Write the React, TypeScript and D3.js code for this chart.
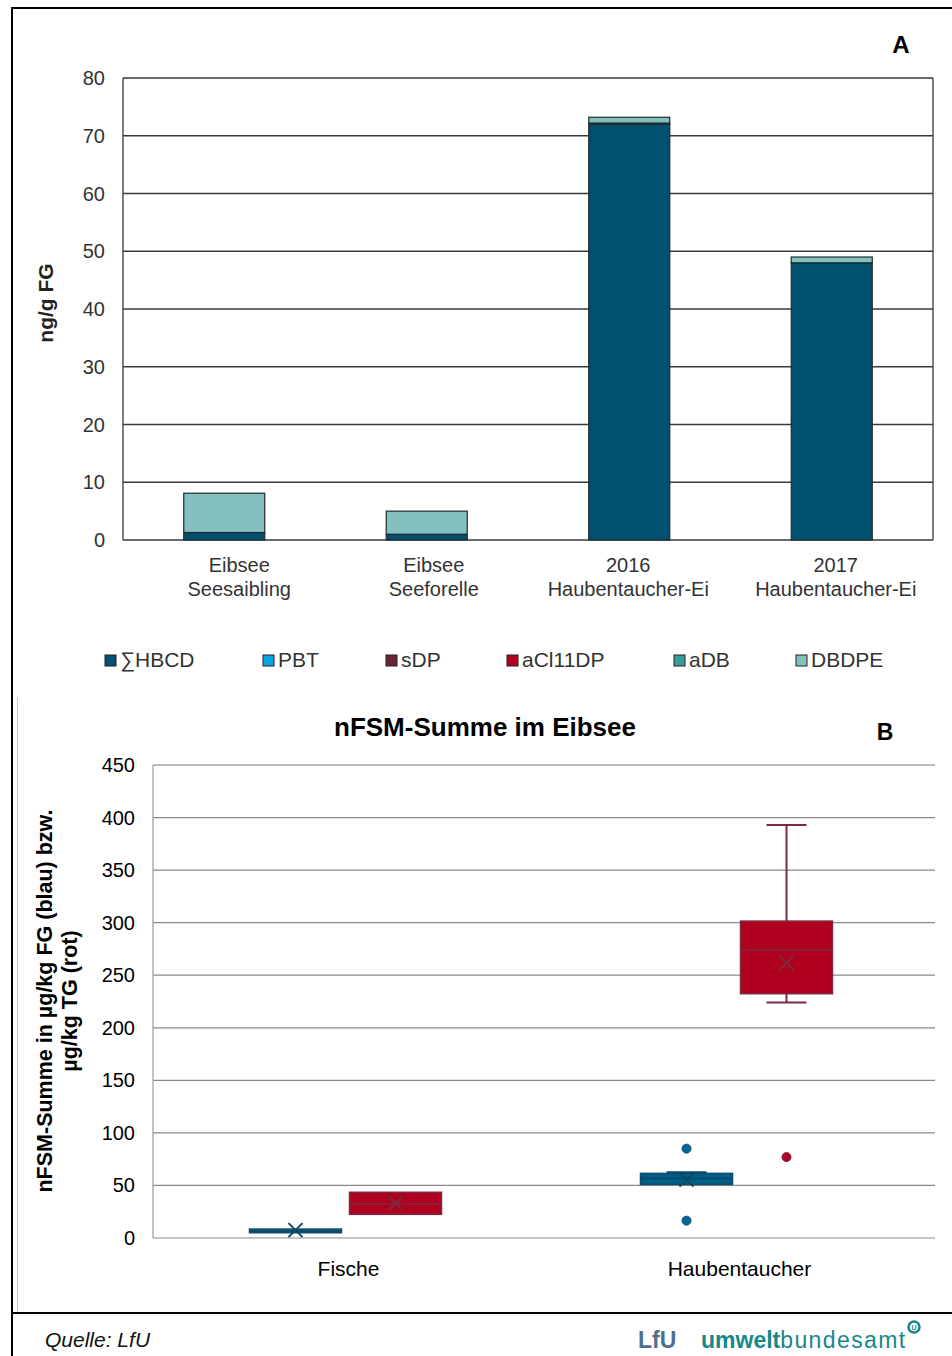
import React from "react";
import * as d3 from "d3";

// ---------- Panel A data ----------
const catA = ["Eibsee|Seesaibling", "Eibsee|Seeforelle", "2016|Haubentaucher-Ei", "2017|Haubentaucher-Ei"];
const seriesNames = ["∑HBCD", "PBT", "sDP", "aCl11DP", "aDB", "DBDPE"];
const seriesColors = ["#02506f", "#0aa1dd", "#6b2333", "#b4001e", "#3b9b98", "#83c0be"];
const hbcd = [1.3, 1.0, 72.0, 48.0];
const pbt = [0, 0, 0, 0];
const sdp = [0, 0, 0.2, 0];
const acl11dp = [0, 0, 0, 0];
const adb = [0, 0, 0, 0];
const dbdpe = [6.8, 4.0, 1.0, 1.0];
const ticksA = [0, 10, 20, 30, 40, 50, 60, 70, 80];

// ---------- Panel B data ----------
const groupsB = ["Fische", "Haubentaucher"];
// [min, q1, median, q3, max, mean]
const blueFische = [5, 5, 6.5, 8.5, 8.5, 7.5];
const blueHauben = [51, 51, 56.5, 61.5, 62.5, 55.5];
const redFische = [22.5, 22.5, 32.6, 43.5, 43.5, 33];
const redHauben = [224, 232.4, 274, 301.5, 393, 261.6];
const blueOutliers = [[], [85, 16.5]];
const redOutliers = [[], [77]];
const ticksB = [0, 50, 100, 150, 200, 250, 300, 350, 400, 450];

const FONT = "'Liberation Sans', Arial, sans-serif";

export default function App() {
  // Panel A scales
  const xA = d3.scaleBand<string>().domain(catA).range([123, 933]).paddingInner(0.6).paddingOuter(0.3);
  const yA = d3.scaleLinear().domain([0, 80]).range([540, 78]);
  const rows = catA.map((c, i) => {
    const r: any = { cat: c };
    const vals = [hbcd, pbt, sdp, acl11dp, adb, dbdpe];
    seriesNames.forEach((s, j) => (r[s] = vals[j][i]));
    return r;
  });
  const stacked = d3.stack<any>().keys(seriesNames)(rows);
  const legendX = [105, 263, 386, 507, 674, 796];
  const labelDx = [15, 7, -1, 4];

  // Panel B scales
  const xB = d3.scaleBand<string>().domain(groupsB).range([153, 935]);
  const xB1 = d3.scaleBand<string>().domain(["blue", "red"]).range([-107, 101]).paddingInner(0.08).paddingOuter(0.08);
  const yB = d3.scaleLinear().domain([0, 450]).range([1238, 765]);

  const boxes = [
    { g: "Fische", s: "blue", st: blueFische, out: blueOutliers[0] },
    { g: "Haubentaucher", s: "blue", st: blueHauben, out: blueOutliers[1] },
    { g: "Fische", s: "red", st: redFische, out: redOutliers[0] },
    { g: "Haubentaucher", s: "red", st: redHauben, out: redOutliers[1] },
  ];
  const boxStyle: any = {
    blue: { fill: "#005d86", stroke: "#0d4e6d", line: "#0b4866" },
    red: { fill: "#b0001f", stroke: "#7b2a40", line: "#7b2a40" },
  };

  return (
    <svg width={952} height={1356} style={{ position: "absolute", left: 0, top: 0, background: "#fff" }} fontFamily={FONT}>
      {/* outer frame */}
      <line x1={12} x2={952} y1={8} y2={8} stroke="#000" strokeWidth={2} />
      <line x1={12} x2={12} y1={7} y2={1356} stroke="#000" strokeWidth={2} />
      <line x1={17.5} x2={17.5} y1={697} y2={1313} stroke="#c8c8c8" strokeWidth={1} />
      <line x1={12} x2={952} y1={1313} y2={1313} stroke="#000" strokeWidth={2} />

      {/* ===== Panel A ===== */}
      <text x={901} y={53} fontSize={24} fontWeight="bold" textAnchor="middle">A</text>
      {ticksA.map((t) => (
        <g key={t}>
          <line x1={123} x2={933} y1={yA(t)} y2={yA(t)} stroke="#3a3a3a" strokeWidth={1.3} />
          <text x={105} y={yA(t) + 7} fontSize={20} textAnchor="end" fill="#333">{t}</text>
        </g>
      ))}
      <line x1={123} x2={123} y1={78} y2={540} stroke="#3a3a3a" strokeWidth={1.3} />
      <line x1={933} x2={933} y1={78} y2={540} stroke="#3a3a3a" strokeWidth={1.3} />
      <text transform="translate(53,303) rotate(-90)" fontSize={21} fontWeight="bold" textAnchor="middle" fill="#222">ng/g FG</text>
      {stacked.map((layer, li) =>
        layer.map((d, i) =>
          d[1] - d[0] > 0 ? (
            <rect key={li + "-" + i} x={xA(catA[i])} width={xA.bandwidth()} y={yA(d[1])} height={yA(d[0]) - yA(d[1])}
              fill={seriesColors[li]} stroke="#1e2a30" strokeWidth={1.2} />
          ) : null
        )
      )}
      {catA.map((c, i) => {
        const [l1, l2] = c.split("|");
        const cx = (xA(c) as number) + xA.bandwidth() / 2 + labelDx[i];
        return (
          <g key={c} fontSize={20} fill="#333" textAnchor="middle">
            <text x={cx} y={572}>{l1}</text>
            <text x={cx} y={596}>{l2}</text>
          </g>
        );
      })}
      {seriesNames.map((s, i) => (
        <g key={s}>
          <rect x={legendX[i]} y={655} width={11} height={11} fill={seriesColors[i]} stroke="#222" strokeWidth={1} />
          <text x={legendX[i] + 15} y={667} fontSize={21} fill="#333">{s}</text>
        </g>
      ))}

      {/* ===== Panel B ===== */}
      <text x={485} y={736} fontSize={26} fontWeight="bold" textAnchor="middle">nFSM-Summe im Eibsee</text>
      <text x={885} y={740} fontSize={23} fontWeight="bold" textAnchor="middle">B</text>
      {ticksB.map((t) => (
        <g key={t}>
          <line x1={153} x2={935} y1={yB(t)} y2={yB(t)} stroke={t === 450 ? "#777" : "#8a8a8a"} strokeWidth={1.2} />
          <text x={135} y={yB(t) + 7} fontSize={20} textAnchor="end" fill="#000">{t}</text>
        </g>
      ))}
      <line x1={153} x2={153} y1={765} y2={1238} stroke="#9a9a9a" strokeWidth={1.2} />
      <g transform="translate(52,1001) rotate(-90)" fontSize={21.5} fontWeight="bold" textAnchor="middle">
        <text x={0} y={0}>nFSM-Summe in µg/kg FG (blau) bzw.</text>
        <text x={0} y={25}>µg/kg TG (rot)</text>
      </g>
      {groupsB.map((g) => (
        <text key={g} x={(xB(g) as number) + xB.bandwidth() / 2} y={1276} fontSize={21} textAnchor="middle">{g}</text>
      ))}
      {boxes.map((b, i) => {
        const st = boxStyle[b.s];
        const cx0 = (xB(b.g) as number) + xB.bandwidth() / 2;
        const bx = cx0 + (xB1(b.s) as number);
        const bw = xB1.bandwidth();
        const cx = bx + bw / 2;
        const [mn, q1, med, q3, mx, mean] = b.st;
        const capW = 40;
        const m = 7;
        return (
          <g key={i}>
            {mx > q3 && (
              <g stroke={st.line} strokeWidth={2}>
                <line x1={cx} x2={cx} y1={yB(q3)} y2={yB(mx)} />
                <line x1={cx - capW / 2} x2={cx + capW / 2} y1={yB(mx)} y2={yB(mx)} />
              </g>
            )}
            {mn < q1 && (
              <g stroke={st.line} strokeWidth={2}>
                <line x1={cx} x2={cx} y1={yB(q1)} y2={yB(mn)} />
                <line x1={cx - capW / 2} x2={cx + capW / 2} y1={yB(mn)} y2={yB(mn)} />
              </g>
            )}
            <rect x={bx} width={bw} y={yB(q3)} height={Math.max(yB(q1) - yB(q3), 1)} fill={st.fill} stroke={st.stroke} strokeWidth={1.5} />
            <line x1={bx} x2={bx + bw} y1={yB(med)} y2={yB(med)} stroke={st.line} strokeWidth={1.5} />
            <g stroke={st.line} strokeWidth={2}>
              <line x1={cx - m} x2={cx + m} y1={yB(mean) - m} y2={yB(mean) + m} />
              <line x1={cx - m} x2={cx + m} y1={yB(mean) + m} y2={yB(mean) - m} />
            </g>
            {b.out.map((o, k) => (
              <circle key={k} cx={cx} cy={yB(o)} r={4.5} fill={b.s === "blue" ? "#006591" : "#b0001f"} stroke={st.stroke} strokeWidth={1} />
            ))}
          </g>
        );
      })}

      {/* footer */}
      <text x={45} y={1347} fontSize={21} fontStyle="italic" fill="#111">Quelle: LfU</text>
      <text x={638} y={1348} fontSize={23} fontWeight="bold" fill="#4d6f8d">LfU</text>
      <text x={701} y={1348} fontSize={23} fill="#16888a">
        <tspan fontWeight="bold">umwelt</tspan>
        <tspan letterSpacing={1.4}>bundesamt</tspan>
      </text>
      <circle cx={914} cy={1327} r={5.5} fill="none" stroke="#16888a" strokeWidth={2.5} />
      <text x={914} y={1330} fontSize={7} fontWeight="bold" textAnchor="middle" fill="#16888a">U</text>
    </svg>
  );
}
